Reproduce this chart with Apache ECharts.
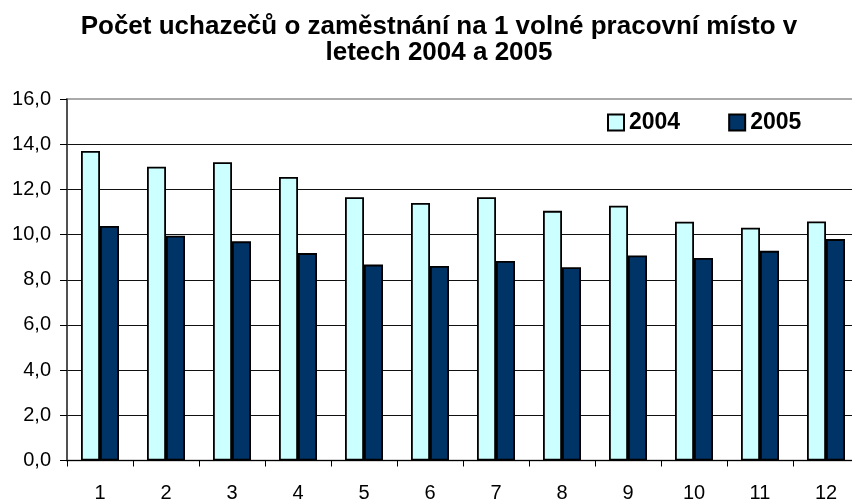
<!DOCTYPE html>
<html>
<head>
<meta charset="utf-8">
<script src="https://cdn.jsdelivr.net/npm/echarts@6/dist/echarts.min.js"></script>
<style>
html,body{margin:0;padding:0;background:#fff;}
#chart{width:852px;height:499px;}
</style>
</head>
<body>
<div id="chart"></div>
<script>
const titleText = 'Počet uchazečů o zaměstnání na 1 volné pracovní místo v\nletech 2004 a 2005';
const categories = ['1','2','3','4','5','6','7','8','9','10','11','12'];
const seriesNames = ['2004', '2005'];
const values2004 = [13.7, 13.0, 13.2, 12.55, 11.65, 11.4, 11.65, 11.05, 11.28, 10.57, 10.3, 10.58];
const values2005 = [10.38, 9.95, 9.7, 9.18, 8.67, 8.61, 8.83, 8.55, 9.07, 8.96, 9.28, 9.8];
const yTicks = [0, 2, 4, 6, 8, 10, 12, 14, 16];

const FONT = '"Liberation Sans", Arial, sans-serif';
const chart = echarts.init(document.getElementById('chart'), null, {renderer: 'canvas'});
chart.setOption({
  animation: false,
  backgroundColor: '#ffffff',
  title: {
    text: titleText,
    left: 439,
    top: 14,
    padding: 0,
    textAlign: 'center',
    textStyle: {
      fontFamily: FONT, fontWeight: 'bold', fontSize: 26, lineHeight: 26, color: '#000'
    }
  },
  legend: {
    data: seriesNames,
    left: 607,
    top: 111,
    padding: 0,
    itemWidth: 16,
    itemHeight: 16,
    itemGap: 48,
    icon: 'rect',
    textStyle: {fontFamily: FONT, fontWeight: 'bold', fontSize: 23, color: '#000'}
  },
  grid: {
    left: 67, right: -7, top: 99, bottom: 38.5,
    containLabel: false,
    outerBoundsMode: 'none',
    show: true,
    borderColor: '#aaaaaa',
    borderWidth: 2,
    backgroundColor: 'transparent'
  },
  xAxis: {
    type: 'category',
    data: categories,
    boundaryGap: true,
    axisLine: {lineStyle: {color: '#000', width: 1}},
    axisTick: {show: true, length: 6, lineStyle: {color: '#000'}},
    axisLabel: {fontFamily: FONT, fontSize: 20, color: '#000', margin: 23}
  },
  yAxis: {
    type: 'value',
    min: yTicks[0],
    max: yTicks[yTicks.length - 1],
    interval: 2,
    axisLine: {show: true, lineStyle: {color: '#333', width: 1.5}},
    axisTick: {show: true, length: 7, lineStyle: {color: '#000'}},
    axisLabel: {
      fontFamily: FONT, fontSize: 20, color: '#000', margin: 16,
      formatter: v => v.toFixed(1).replace('.', ',')
    },
    splitLine: {show: true, lineStyle: {color: ['#000','#111','#111','#111','#111','#111','#111','#111','#aaaaaa'], width: 1}}
  },
  series: [
    {
      name: seriesNames[0], type: 'bar', data: values2004,
      barWidth: 19, barGap: '0%',
      itemStyle: {color: '#CCFFFF', borderColor: '#000', borderWidth: 1.8}
    },
    {
      name: seriesNames[1], type: 'bar', data: values2005,
      barWidth: 19, barGap: '0%',
      itemStyle: {color: '#003366', borderColor: '#000', borderWidth: 1.8}
    }
  ]
});
</script>
</body>
</html>
